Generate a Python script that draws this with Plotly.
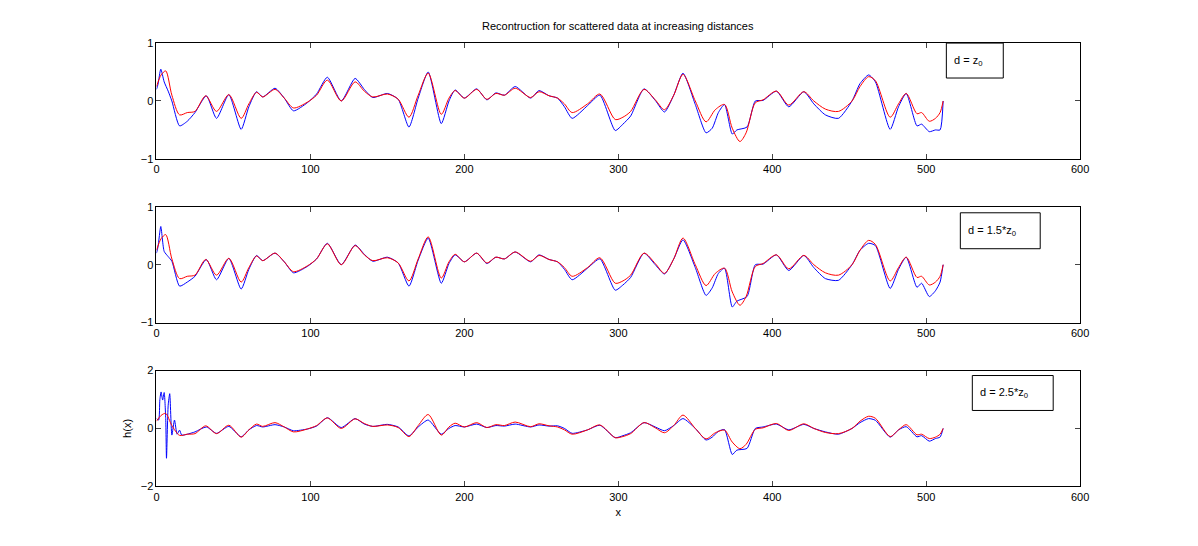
import plotly.graph_objects as go

red_x = [0,3,6,10,15,20,25,32,39,47,55,60,65,69,77,83,89,98,104,111,120,129,135,140.5,150,157,164,170,176.5,185,190,194,200,208,214.6,220.5,226,233,243,248.5,255,260.5,265,270,280,288,298,303,308,316.7,324,330,336,342,350,357,363,369,374,379,383,389,394,402.7,410.7,420.5,427,434.5,443,451.8,457,462.6,467,476.6,482,487,494,497,502,506,509,511]
red_y = [0.25,0.45,0.52,0.1,-0.24,-0.2,-0.18,0.09,-0.18,0.11,-0.3,-0.05,0.15,0.07,0.2,0.05,-0.12,-0.02,0.1,0.36,0.0,0.33,0.17,0.07,0.12,0.03,-0.28,0.1,0.48,-0.23,0.05,0.18,0.05,0.2,0.03,0.13,0.1,0.22,0.06,0.16,0.09,0.05,-0.05,-0.2,-0.05,0.12,-0.32,-0.28,-0.18,0.2,0.02,-0.15,0.1,0.46,0.0,-0.36,-0.15,-0.06,-0.47,-0.70,-0.55,-0.03,0.02,0.17,-0.07,0.16,0.0,-0.14,-0.18,0.0,0.25,0.42,0.35,-0.28,-0.05,0.13,-0.22,-0.2,-0.35,-0.3,-0.2,0.0]

blue_x = [0,1,2.8,5,7.6,10,15,20,25,32.4,39,47,55,60,65,69,77,83,89,98,104,111,120,129,135,140.5,150,157,164,170,176.5,185,190,194,200,208,214.6,220.5,226,233,243,248.5,255,260.5,265,270,280,288,298,303,308,316.7,324,330,336,342,350,357,361,365,369,374,377,383.6,389,394,402.7,410.7,420.5,427,434.5,443,451.8,457,462.6,467,476.6,482,487,494,497,502,506,509,511]
blue1_y = [0.2,0.29,0.55,0.33,0.17,0.0,-0.43,-0.35,-0.2,0.09,-0.3,0.11,-0.49,-0.1,0.16,0.07,0.22,0.05,-0.17,-0.03,0.12,0.41,0.0,0.39,0.2,0.06,0.13,0.03,-0.45,0.05,0.5,-0.39,0.0,0.19,0.05,0.21,0.02,0.14,0.1,0.25,0.05,0.18,0.09,0.05,-0.1,-0.3,-0.08,0.1,-0.51,-0.4,-0.26,0.21,0.01,-0.19,0.1,0.48,-0.06,-0.55,-0.47,-0.2,-0.06,-0.57,-0.5,-0.45,0.0,0.01,0.17,-0.1,0.16,-0.05,-0.24,-0.3,0.0,0.3,0.45,0.33,-0.49,-0.1,0.13,-0.43,-0.4,-0.53,-0.5,-0.5,0.0]
blue2_y = [0.2,0.31,0.66,0.23,0.14,0.06,-0.37,-0.3,-0.2,0.09,-0.26,0.11,-0.42,-0.08,0.16,0.07,0.2,0.05,-0.14,-0.03,0.1,0.37,0.0,0.34,0.18,0.06,0.13,0.03,-0.37,0.08,0.46,-0.32,0.02,0.17,0.05,0.2,0.02,0.13,0.1,0.22,0.05,0.17,0.09,0.05,-0.08,-0.26,-0.06,0.1,-0.44,-0.35,-0.22,0.2,0.0,-0.16,0.1,0.43,-0.05,-0.53,-0.4,-0.15,-0.06,-0.73,-0.63,-0.55,0.0,0.01,0.17,-0.1,0.16,-0.05,-0.24,-0.27,0.0,0.25,0.37,0.33,-0.41,-0.08,0.13,-0.39,-0.32,-0.55,-0.45,-0.3,0.0]

blue3_head_x = [0,1.4,2.2,3,4,5,6,6.5,7.6,8.6,10,11.7,13.4,15,16.4,20]
blue3_head_y = [0.34,0.29,1.0,1.26,0.98,1.24,0.34,-1.03,0.8,1.2,-0.23,0.29,-0.2,-0.06,-0.23,-0.2]
blue3_tail_y = [-0.12,0.05,-0.17,0.07,-0.29,-0.05,0.1,0.05,0.13,0.05,-0.08,-0.02,0.08,0.37,0.03,0.34,0.15,0.07,0.14,0.05,-0.26,0.05,0.29,-0.2,0.0,0.1,0.05,0.15,0.03,0.1,0.08,0.15,0.05,0.12,0.08,0.09,0.0,-0.17,-0.05,0.11,-0.32,-0.25,-0.15,0.2,0.05,-0.08,0.1,0.34,0.0,-0.4,-0.3,-0.1,-0.04,-0.9,-0.75,-0.69,0.0,0.05,0.15,-0.05,0.14,0.0,-0.12,-0.2,0.0,0.2,0.34,0.28,-0.3,-0.05,0.06,-0.29,-0.25,-0.44,-0.35,-0.3,0.0]
blue3_x = blue3_head_x + blue_x[8:]
blue3_y = blue3_head_y + blue3_tail_y

labels = ["d = z<sub>0</sub>", "d = 1.5*z<sub>0</sub>", "d = 2.5*z<sub>0</sub>"]
xticks = [0, 100, 200, 300, 400, 500, 600]

W, H = 1198, 546
# calibrated mapping from target pixel to paper fraction
def fx(r): return ((r - 1.3) / 0.9914) / W
def fy(r): return 1 - ((r - 4.85) / 0.9797) / H

rows = [(42, 158), (206, 322), (370, 486)]
yr = [[-1, 1], [-1, 1], [-2, 2]]
ytk = [[-1, 0, 1], [-1, 0, 1], [-2, 0, 2]]
boxes = [(946, 42, 1003, 77), (960, 212, 1040, 248), (972, 375, 1053, 410)]

fig = go.Figure()
blues = [(blue_x, blue1_y), (blue_x, blue2_y), (blue3_x, blue3_y)]
font = dict(family="Liberation Sans, Arial", size=11, color="black")
for i in range(3):
    xa = "x" if i == 0 else f"x{i+1}"
    ya = "y" if i == 0 else f"y{i+1}"
    fig.add_trace(go.Scatter(x=blues[i][0], y=blues[i][1], mode="lines", line=dict(color="#0000ff", width=1, shape="spline", smoothing=0.6), xaxis=xa, yaxis=ya, showlegend=False))
    fig.add_trace(go.Scatter(x=red_x, y=red_y, mode="lines", line=dict(color="#ff0000", width=1, shape="spline", smoothing=0.8), xaxis=xa, yaxis=ya, showlegend=False))
    t, b = rows[i]
    axx = dict(domain=[fx(155), fx(1080)], range=[0, 600], tickvals=xticks, ticks="inside", ticklen=5, mirror="ticks",
               showline=True, linecolor="black", linewidth=1, showgrid=False, zeroline=False, tickfont=font, anchor=ya)
    axy = dict(domain=[fy(b), fy(t)], range=yr[i], tickvals=ytk[i], ticks="inside", ticklen=5, mirror="ticks",
               showline=True, linecolor="black", linewidth=1, showgrid=False, zeroline=False, tickfont=font, anchor=xa)
    if i == 2:
        axx["title"] = dict(text="x", font=font, standoff=6)
        axy["title"] = dict(text="h(x)", font=font, standoff=6)
    fig.layout["xaxis" if i == 0 else f"xaxis{i+1}"] = axx
    fig.layout["yaxis" if i == 0 else f"yaxis{i+1}"] = axy
    x0, y0, x1, y1 = boxes[i]
    fig.add_shape(type="rect", xref="paper", yref="paper", x0=fx(x0), x1=fx(x1), y0=fy(y1), y1=fy(y0),
                  line=dict(color="black", width=1), fillcolor="white")
    fig.add_annotation(xref="paper", yref="paper", x=fx(x0 + 6), y=fy((y0 + y1) / 2), xanchor="left", yanchor="middle",
                       text=labels[i], showarrow=False, font=font)

fig.add_annotation(xref="paper", yref="paper", x=fx(617), y=fy(25), text="Recontruction for scattered data at increasing distances",
                   showarrow=False, font=font, yanchor="middle")
fig.update_layout(autosize=True, margin=dict(l=0, r=0, t=0, b=0), paper_bgcolor="white", plot_bgcolor="white")
fig.write_html("out.html", config={"displayModeBar": False, "responsive": True}, default_width="100vw", default_height="100vh")

with open("out.html", encoding="utf-8") as f:
    html = f.read()
html = html.replace("<head>", "<head><style>html,body{margin:0;padding:0;overflow:hidden;width:100%;height:100%}</style>", 1)
with open("out.html", "w", encoding="utf-8") as f:
    f.write(html)
